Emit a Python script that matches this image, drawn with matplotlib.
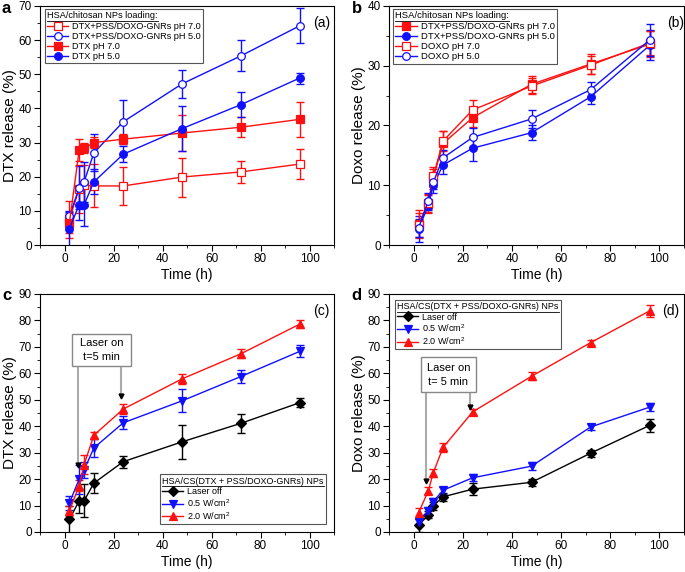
import matplotlib
matplotlib.use('Agg')
import matplotlib.pyplot as plt
from matplotlib.lines import Line2D
from matplotlib.patches import Rectangle
from matplotlib.ticker import MultipleLocator

plt.rcParams['font.family'] = ['Liberation Sans', 'DejaVu Sans']
plt.rcParams['mathtext.fontset'] = 'custom'
plt.rcParams['mathtext.rm'] = 'Liberation Sans'

# ---- Data ----
hours = [2, 6, 8, 12, 24, 48, 72, 96]

# (a) DTX release
a_gnr_ph7 = [7.5, 16.5, 17.5, 17.3, 17.3, 19.9, 21.4, 23.7]
a_gnr_ph7_err = [5.5, 7.0, 6.0, 6.3, 5.5, 5.7, 3.1, 4.3]
a_gnr_ph5 = [8.5, 16.7, 18.5, 27.0, 36.1, 47.2, 55.4, 64.2]
a_gnr_ph5_err = [1.5, 6.3, 5.8, 5.4, 6.4, 4.2, 4.5, 5.1]
a_dtx_ph7 = [6.5, 27.8, 28.3, 30.0, 31.0, 32.8, 34.5, 36.8]
a_dtx_ph7_err = [3.0, 3.2, 1.5, 1.5, 1.5, 5.3, 3.0, 5.2]
a_dtx_ph5 = [4.8, 11.8, 11.8, 18.5, 26.6, 34.1, 41.1, 48.9]
a_dtx_ph5_err = [5.0, 4.5, 6.2, 3.7, 2.3, 6.5, 3.6, 1.6]

# (b) Doxo release
b_gnr_ph7 = [3.5, 6.8, 11.2, 17.0, 21.3, 26.9, 30.3, 33.6]
b_gnr_ph7_err = [2.3, 1.5, 1.5, 2.0, 1.6, 1.4, 1.6, 2.2]
b_gnr_ph5 = [2.7, 6.6, 10.0, 13.4, 16.2, 18.8, 24.8, 33.4]
b_gnr_ph5_err = [2.2, 0.8, 1.3, 1.5, 2.1, 1.3, 1.2, 2.5]
b_doxo_ph7 = [3.3, 7.0, 11.5, 17.4, 22.6, 26.6, 30.1, 33.8]
b_doxo_ph7_err = [2.0, 1.5, 1.5, 1.7, 1.6, 1.3, 1.5, 2.0]
b_doxo_ph5 = [2.8, 7.4, 10.5, 14.6, 18.0, 21.1, 26.0, 34.3]
b_doxo_ph5_err = [1.5, 1.3, 1.2, 1.3, 1.6, 1.5, 1.2, 2.7]

# (c) DTX release with laser
c_off = [4.8, 11.8, 11.8, 18.5, 26.6, 34.1, 41.1, 48.9]
c_off_err = [5.0, 4.5, 6.2, 3.7, 2.3, 6.5, 3.6, 1.6]
c_low = [11.0, 20.0, 23.5, 31.8, 41.3, 49.6, 58.8, 68.3]
c_low_err = [2.5, 5.5, 3.0, 3.5, 2.4, 4.3, 2.5, 2.3]
c_high = [8.0, 17.5, 25.5, 36.6, 46.5, 57.9, 67.4, 78.6]
c_high_err = [2.0, 2.0, 3.5, 1.3, 1.8, 1.8, 1.7, 1.6]

# (d) Doxo release with laser
d_off = [2.5, 6.5, 10.0, 13.3, 16.2, 18.8, 29.8, 40.3]
d_off_err = [2.5, 1.3, 1.5, 1.5, 2.3, 1.3, 1.3, 2.6]
d_low = [3.6, 8.0, 11.5, 15.8, 20.5, 24.9, 39.7, 47.2]
d_low_err = [1.3, 1.5, 1.5, 1.3, 1.3, 1.5, 1.3, 1.5]
d_high = [7.2, 15.6, 22.4, 32.0, 45.4, 58.9, 71.6, 83.6]
d_high_err = [2.0, 1.3, 1.5, 1.8, 1.3, 1.5, 1.0, 2.3]

RED = '#ff1010'
BLUE = '#1010ff'
BLACK = 'black'
FS_TICK = 8.5
FS_XLABEL = 10
FS_YLABEL = 11


def series(ax, y, err, color, marker, filled, label):
    ax.errorbar(hours, y, yerr=err, color=color, lw=1, elinewidth=1,
                capsize=3, capthick=1, fmt='none', zorder=2)
    line, = ax.plot(hours, y, color=color, lw=1, marker=marker, ms=5.5,
                    mfc=color if filled else 'white', mec=color, mew=0.9,
                    label=label, zorder=3)
    return line


def style_axes(ax, ymax, ylabel, tag, tag_x=0.958):
    ax.set_xlim(-10, 110)
    ax.set_ylim(0, ymax)
    ax.xaxis.set_major_locator(MultipleLocator(20))
    ax.xaxis.set_minor_locator(MultipleLocator(10))
    ax.yaxis.set_major_locator(MultipleLocator(10))
    ax.yaxis.set_minor_locator(MultipleLocator(5))
    ax.tick_params(which='both', direction='out', labelsize=FS_TICK,
                   top=False, right=False, pad=2)
    ax.tick_params(which='major', length=4)
    ax.tick_params(which='minor', length=2)
    ax.set_xlabel('Time (h)', fontsize=FS_XLABEL, labelpad=2)
    ax.set_ylabel(ylabel, fontsize=FS_YLABEL, labelpad=1)
    ax.text(tag_x, 0.93, tag, transform=ax.transAxes, fontsize=10,
            ha='center', va='center')


def legend(ax, handles, title, fs, **kw):
    leg = ax.legend(handles=handles, title=title, fontsize=fs,
                    title_fontsize=fs, frameon=True, fancybox=False,
                    edgecolor='#555555', framealpha=1, handlelength=2.3,
                    handletextpad=0.4, labelspacing=0.12, borderpad=0.25,
                    borderaxespad=0, alignment='left', **kw)
    leg.get_frame().set_linewidth(0.8)
    leg._legend_box.sep = 1
    return leg


def laser_box(ax, x0, x1, y0, y1, text, arrows):
    ax.add_patch(Rectangle((x0, y0), x1 - x0, y1 - y0, fc='white',
                           ec='#888888', lw=1, zorder=4))
    ax.text((x0 + x1) / 2, (y0 + y1) / 2, text, fontsize=8, ha='center',
            va='center', linespacing=1.5, zorder=5)
    for xa, ya in arrows:
        ax.plot([xa, xa], [y0, ya + 1.2], color='#aaaaaa', lw=1.5, zorder=1)
        ax.plot([xa], [ya + 0.8], marker='v', color='black', ms=3.5,
                zorder=5)


fig = plt.figure(figsize=(6.85, 5.72), dpi=100)
W, H = 685, 572
ax_a = fig.add_axes([40 / W, 1 - 245 / H, 294 / W, 239 / H])
ax_b = fig.add_axes([389 / W, 1 - 245 / H, 295 / W, 239 / H])
ax_c = fig.add_axes([40 / W, 1 - 532 / H, 294 / W, 238 / H])
ax_d = fig.add_axes([389 / W, 1 - 532 / H, 295 / W, 238 / H])

# ---- (a) ----
h = [series(ax_a, a_gnr_ph7, a_gnr_ph7_err, RED, 's', False,
            'DTX+PSS/DOXO-GNRs pH 7.0'),
     series(ax_a, a_gnr_ph5, a_gnr_ph5_err, BLUE, 'o', False,
            'DTX+PSS/DOXO-GNRs pH 5.0'),
     series(ax_a, a_dtx_ph7, a_dtx_ph7_err, RED, 's', True, 'DTX pH 7.0'),
     series(ax_a, a_dtx_ph5, a_dtx_ph5_err, BLUE, 'o', True, 'DTX pH 5.0')]
style_axes(ax_a, 70, 'DTX release (%)', '(a)')
leg_a = legend(ax_a, h, 'HSA/chitosan NPs loading:', 6.6, loc='upper left',
               bbox_to_anchor=(0.017, 0.987))

# ---- (b) ----
h = [series(ax_b, b_gnr_ph7, b_gnr_ph7_err, RED, 's', True,
            'DTX+PSS/DOXO-GNRs pH 7.0'),
     series(ax_b, b_gnr_ph5, b_gnr_ph5_err, BLUE, 'o', True,
            'DTX+PSS/DOXO-GNRs pH 5.0'),
     series(ax_b, b_doxo_ph7, b_doxo_ph7_err, RED, 's', False, 'DOXO pH 7.0'),
     series(ax_b, b_doxo_ph5, b_doxo_ph5_err, BLUE, 'o', False, 'DOXO pH 5.0')]
style_axes(ax_b, 40, 'Doxo release (%)', '(b)', tag_x=0.972)
leg_b = legend(ax_b, h, 'HSA/chitosan NPs loading:', 6.8, loc='upper left',
               bbox_to_anchor=(0.013, 0.987))

# ---- (c) ----
h = [series(ax_c, c_off, c_off_err, BLACK, 'D', True, 'Laser off'),
     series(ax_c, c_low, c_low_err, BLUE, 'v', True, '0.5 W/cm$^2$'),
     series(ax_c, c_high, c_high_err, RED, '^', True, '2.0 W/cm$^2$')]
style_axes(ax_c, 90, 'DTX release (%)', '(c)')
leg_c = legend(ax_c, h, 'HSA/CS(DTX + PSS/DOXO-GNRs) NPs', 6.5,
               loc='lower right', bbox_to_anchor=(0.973, 0.034))
laser_box(ax_c, 3.0, 27.3, 62.8, 74.8, 'Laser on\nt=5 min',
          [(5.4, 24.6), (23.2, 50.7)])

# ---- (d) ----
h = [series(ax_d, d_off, d_off_err, BLACK, 'D', True, 'Laser off'),
     series(ax_d, d_low, d_low_err, BLUE, 'v', True, '0.5 W/cm$^2$'),
     series(ax_d, d_high, d_high_err, RED, '^', True, '2.0 W/cm$^2$')]
style_axes(ax_d, 90, 'Doxo release (%)', '(d)', tag_x=0.955)
leg_d = legend(ax_d, h, 'HSA/CS(DTX + PSS/DOXO-GNRs) NPs', 6.5,
               loc='upper left', bbox_to_anchor=(0.02, 0.975))
laser_box(ax_d, 3.2, 25.2, 52.9, 66.0, 'Laser on\nt= 5 min',
          [(5.0, 18.5), (22.9, 46.5)])

# panel letters
for x, y, s in [(2, 1, 'a'), (352, 1, 'b'), (2, 288, 'c'), (351, 288, 'd')]:
    fig.text(x / W, 1 - y / H, s, fontsize=12, fontweight='bold',
             ha='left', va='top')

# underline legend titles
fig.canvas.draw()
renderer = fig.canvas.get_renderer()
for leg in (leg_a, leg_b, leg_c, leg_d):
    bb = leg.get_title().get_window_extent(renderer)
    fig.add_artist(Line2D([bb.x0 / W, bb.x1 / W],
                          [(bb.y0 - 0.5) / H, (bb.y0 - 0.5) / H],
                          transform=fig.transFigure, color='black', lw=0.6))

fig.savefig('out.png', dpi=100)
